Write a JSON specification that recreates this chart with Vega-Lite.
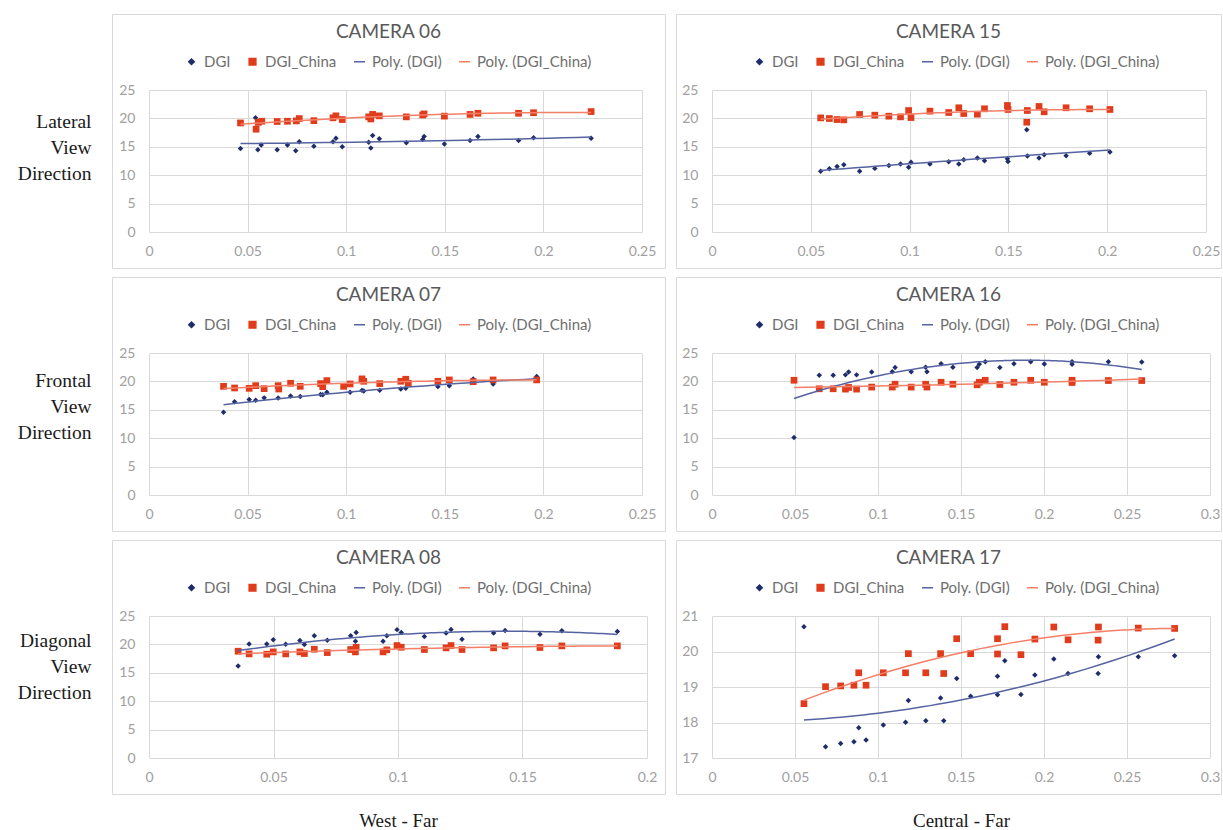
{
  "$schema": "https://vega.github.io/schema/vega-lite/v6.json",
  "background": "white",
  "padding": {"left": 16, "top": 13, "right": 0, "bottom": 0},
  "datasets": {
    "pts": [
      {"cam":"06","s":"DGI","x":0.0464,"y":14.7},{"cam":"06","s":"DGI","x":0.054,"y":20.1},{"cam":"06","s":"DGI","x":0.0552,"y":14.5},{"cam":"06","s":"DGI","x":0.0569,"y":15.3},{"cam":"06","s":"DGI","x":0.065,"y":14.5},{"cam":"06","s":"DGI","x":0.0702,"y":15.3},{"cam":"06","s":"DGI","x":0.0744,"y":14.3},{"cam":"06","s":"DGI","x":0.0762,"y":15.9},{"cam":"06","s":"DGI","x":0.0836,"y":15.1},{"cam":"06","s":"DGI","x":0.0933,"y":15.9},{"cam":"06","s":"DGI","x":0.0948,"y":16.5},{"cam":"06","s":"DGI","x":0.098,"y":15.0},{"cam":"06","s":"DGI","x":0.1114,"y":15.8},{"cam":"06","s":"DGI","x":0.1125,"y":14.8},{"cam":"06","s":"DGI","x":0.1134,"y":17.0},{"cam":"06","s":"DGI","x":0.1168,"y":16.4},{"cam":"06","s":"DGI","x":0.1305,"y":15.7},{"cam":"06","s":"DGI","x":0.1388,"y":16.3},{"cam":"06","s":"DGI","x":0.1395,"y":16.8},{"cam":"06","s":"DGI","x":0.1498,"y":15.5},{"cam":"06","s":"DGI","x":0.1628,"y":16.1},{"cam":"06","s":"DGI","x":0.1668,"y":16.8},{"cam":"06","s":"DGI","x":0.1874,"y":16.1},{"cam":"06","s":"DGI","x":0.195,"y":16.6},{"cam":"06","s":"DGI","x":0.2242,"y":16.5},
      {"cam":"06","s":"DGI_China","x":0.0464,"y":19.2},{"cam":"06","s":"DGI_China","x":0.0543,"y":18.1},{"cam":"06","s":"DGI_China","x":0.0554,"y":19.3},{"cam":"06","s":"DGI_China","x":0.0572,"y":19.5},{"cam":"06","s":"DGI_China","x":0.065,"y":19.45},{"cam":"06","s":"DGI_China","x":0.0702,"y":19.5},{"cam":"06","s":"DGI_China","x":0.0747,"y":19.56},{"cam":"06","s":"DGI_China","x":0.0762,"y":19.97},{"cam":"06","s":"DGI_China","x":0.0836,"y":19.6},{"cam":"06","s":"DGI_China","x":0.0933,"y":20.1},{"cam":"06","s":"DGI_China","x":0.0948,"y":20.45},{"cam":"06","s":"DGI_China","x":0.098,"y":19.8},{"cam":"06","s":"DGI_China","x":0.1114,"y":20.27},{"cam":"06","s":"DGI_China","x":0.1125,"y":19.9},{"cam":"06","s":"DGI_China","x":0.1134,"y":20.7},{"cam":"06","s":"DGI_China","x":0.1168,"y":20.45},{"cam":"06","s":"DGI_China","x":0.1305,"y":20.27},{"cam":"06","s":"DGI_China","x":0.1388,"y":20.6},{"cam":"06","s":"DGI_China","x":0.1395,"y":20.8},{"cam":"06","s":"DGI_China","x":0.1498,"y":20.4},{"cam":"06","s":"DGI_China","x":0.1628,"y":20.7},{"cam":"06","s":"DGI_China","x":0.1668,"y":20.9},{"cam":"06","s":"DGI_China","x":0.1874,"y":20.9},{"cam":"06","s":"DGI_China","x":0.195,"y":21.0},{"cam":"06","s":"DGI_China","x":0.2242,"y":21.2},
      {"cam":"15","s":"DGI","x":0.055,"y":10.7},{"cam":"15","s":"DGI","x":0.0594,"y":11.15},{"cam":"15","s":"DGI","x":0.0633,"y":11.55},{"cam":"15","s":"DGI","x":0.0667,"y":11.85},{"cam":"15","s":"DGI","x":0.0747,"y":10.7},{"cam":"15","s":"DGI","x":0.0824,"y":11.2},{"cam":"15","s":"DGI","x":0.0895,"y":11.72},{"cam":"15","s":"DGI","x":0.0954,"y":11.96},{"cam":"15","s":"DGI","x":0.0995,"y":11.4},{"cam":"15","s":"DGI","x":0.1007,"y":12.3},{"cam":"15","s":"DGI","x":0.1103,"y":11.96},{"cam":"15","s":"DGI","x":0.1198,"y":12.37},{"cam":"15","s":"DGI","x":0.1249,"y":11.96},{"cam":"15","s":"DGI","x":0.1274,"y":12.73},{"cam":"15","s":"DGI","x":0.1343,"y":13.02},{"cam":"15","s":"DGI","x":0.1379,"y":12.55},{"cam":"15","s":"DGI","x":0.1495,"y":12.9},{"cam":"15","s":"DGI","x":0.1498,"y":12.43},{"cam":"15","s":"DGI","x":0.1593,"y":18.0},{"cam":"15","s":"DGI","x":0.1596,"y":13.38},{"cam":"15","s":"DGI","x":0.1655,"y":13.02},{"cam":"15","s":"DGI","x":0.1681,"y":13.61},{"cam":"15","s":"DGI","x":0.1792,"y":13.43},{"cam":"15","s":"DGI","x":0.1911,"y":13.85},{"cam":"15","s":"DGI","x":0.2014,"y":14.08},
      {"cam":"15","s":"DGI_China","x":0.055,"y":20.09},{"cam":"15","s":"DGI_China","x":0.0594,"y":19.98},{"cam":"15","s":"DGI_China","x":0.0633,"y":19.8},{"cam":"15","s":"DGI_China","x":0.0667,"y":19.74},{"cam":"15","s":"DGI_China","x":0.0747,"y":20.69},{"cam":"15","s":"DGI_China","x":0.0824,"y":20.57},{"cam":"15","s":"DGI_China","x":0.0895,"y":20.39},{"cam":"15","s":"DGI_China","x":0.0954,"y":20.27},{"cam":"15","s":"DGI_China","x":0.0995,"y":21.39},{"cam":"15","s":"DGI_China","x":0.1007,"y":20.15},{"cam":"15","s":"DGI_China","x":0.1103,"y":21.28},{"cam":"15","s":"DGI_China","x":0.1198,"y":21.04},{"cam":"15","s":"DGI_China","x":0.1249,"y":21.87},{"cam":"15","s":"DGI_China","x":0.1274,"y":20.86},{"cam":"15","s":"DGI_China","x":0.1343,"y":20.74},{"cam":"15","s":"DGI_China","x":0.1379,"y":21.69},{"cam":"15","s":"DGI_China","x":0.1495,"y":22.28},{"cam":"15","s":"DGI_China","x":0.1498,"y":21.57},{"cam":"15","s":"DGI_China","x":0.1593,"y":19.33},{"cam":"15","s":"DGI_China","x":0.1596,"y":21.39},{"cam":"15","s":"DGI_China","x":0.1655,"y":22.1},{"cam":"15","s":"DGI_China","x":0.1681,"y":21.16},{"cam":"15","s":"DGI_China","x":0.1792,"y":21.87},{"cam":"15","s":"DGI_China","x":0.1911,"y":21.69},{"cam":"15","s":"DGI_China","x":0.2014,"y":21.57},
      {"cam":"07","s":"DGI","x":0.0378,"y":14.57},{"cam":"07","s":"DGI","x":0.0434,"y":16.41},{"cam":"07","s":"DGI","x":0.0508,"y":16.82},{"cam":"07","s":"DGI","x":0.0541,"y":16.7},{"cam":"07","s":"DGI","x":0.0584,"y":17.1},{"cam":"07","s":"DGI","x":0.0655,"y":17.06},{"cam":"07","s":"DGI","x":0.0718,"y":17.42},{"cam":"07","s":"DGI","x":0.0767,"y":17.36},{"cam":"07","s":"DGI","x":0.087,"y":17.71},{"cam":"07","s":"DGI","x":0.0881,"y":17.65},{"cam":"07","s":"DGI","x":0.0902,"y":18.07},{"cam":"07","s":"DGI","x":0.102,"y":18.07},{"cam":"07","s":"DGI","x":0.108,"y":18.42},{"cam":"07","s":"DGI","x":0.1089,"y":18.3},{"cam":"07","s":"DGI","x":0.117,"y":18.42},{"cam":"07","s":"DGI","x":0.1277,"y":18.66},{"cam":"07","s":"DGI","x":0.1302,"y":18.78},{"cam":"07","s":"DGI","x":0.1465,"y":19.08},{"cam":"07","s":"DGI","x":0.1523,"y":19.25},{"cam":"07","s":"DGI","x":0.1644,"y":20.44},{"cam":"07","s":"DGI","x":0.1745,"y":19.55},{"cam":"07","s":"DGI","x":0.1966,"y":20.85},
      {"cam":"07","s":"DGI_China","x":0.0378,"y":19.13},{"cam":"07","s":"DGI_China","x":0.0434,"y":18.84},{"cam":"07","s":"DGI_China","x":0.0508,"y":18.78},{"cam":"07","s":"DGI_China","x":0.0541,"y":19.25},{"cam":"07","s":"DGI_China","x":0.0584,"y":18.72},{"cam":"07","s":"DGI_China","x":0.0655,"y":19.25},{"cam":"07","s":"DGI_China","x":0.0658,"y":18.66},{"cam":"07","s":"DGI_China","x":0.0718,"y":19.67},{"cam":"07","s":"DGI_China","x":0.0767,"y":19.13},{"cam":"07","s":"DGI_China","x":0.087,"y":19.61},{"cam":"07","s":"DGI_China","x":0.0881,"y":19.08},{"cam":"07","s":"DGI_China","x":0.0902,"y":20.14},{"cam":"07","s":"DGI_China","x":0.0987,"y":19.13},{"cam":"07","s":"DGI_China","x":0.102,"y":19.55},{"cam":"07","s":"DGI_China","x":0.108,"y":20.44},{"cam":"07","s":"DGI_China","x":0.1089,"y":20.02},{"cam":"07","s":"DGI_China","x":0.117,"y":19.61},{"cam":"07","s":"DGI_China","x":0.1277,"y":20.02},{"cam":"07","s":"DGI_China","x":0.1302,"y":20.38},{"cam":"07","s":"DGI_China","x":0.1315,"y":19.67},{"cam":"07","s":"DGI_China","x":0.1465,"y":20.02},{"cam":"07","s":"DGI_China","x":0.1523,"y":20.26},{"cam":"07","s":"DGI_China","x":0.1644,"y":19.96},{"cam":"07","s":"DGI_China","x":0.1745,"y":20.26},{"cam":"07","s":"DGI_China","x":0.1966,"y":20.26},
      {"cam":"16","s":"DGI","x":0.0494,"y":10.12},{"cam":"16","s":"DGI","x":0.0646,"y":21.1},{"cam":"16","s":"DGI","x":0.073,"y":21.1},{"cam":"16","s":"DGI","x":0.0804,"y":21.15},{"cam":"16","s":"DGI","x":0.0823,"y":21.65},{"cam":"16","s":"DGI","x":0.0871,"y":21.15},{"cam":"16","s":"DGI","x":0.0962,"y":21.65},{"cam":"16","s":"DGI","x":0.1086,"y":21.7},{"cam":"16","s":"DGI","x":0.1103,"y":22.45},{"cam":"16","s":"DGI","x":0.12,"y":21.7},{"cam":"16","s":"DGI","x":0.1287,"y":22.5},{"cam":"16","s":"DGI","x":0.1295,"y":21.7},{"cam":"16","s":"DGI","x":0.138,"y":23.1},{"cam":"16","s":"DGI","x":0.1451,"y":22.5},{"cam":"16","s":"DGI","x":0.1597,"y":22.45},{"cam":"16","s":"DGI","x":0.161,"y":23.0},{"cam":"16","s":"DGI","x":0.1646,"y":23.45},{"cam":"16","s":"DGI","x":0.1734,"y":22.45},{"cam":"16","s":"DGI","x":0.1819,"y":23.1},{"cam":"16","s":"DGI","x":0.192,"y":23.45},{"cam":"16","s":"DGI","x":0.2002,"y":23.05},{"cam":"16","s":"DGI","x":0.2169,"y":23.45},{"cam":"16","s":"DGI","x":0.2169,"y":23.0},{"cam":"16","s":"DGI","x":0.2388,"y":23.45},{"cam":"16","s":"DGI","x":0.2589,"y":23.4},
      {"cam":"16","s":"DGI_China","x":0.0494,"y":20.2},{"cam":"16","s":"DGI_China","x":0.0646,"y":18.7},{"cam":"16","s":"DGI_China","x":0.073,"y":18.7},{"cam":"16","s":"DGI_China","x":0.0804,"y":18.64},{"cam":"16","s":"DGI_China","x":0.0823,"y":18.94},{"cam":"16","s":"DGI_China","x":0.0871,"y":18.64},{"cam":"16","s":"DGI_China","x":0.0962,"y":19.0},{"cam":"16","s":"DGI_China","x":0.1086,"y":19.0},{"cam":"16","s":"DGI_China","x":0.1103,"y":19.5},{"cam":"16","s":"DGI_China","x":0.12,"y":19.0},{"cam":"16","s":"DGI_China","x":0.1287,"y":19.5},{"cam":"16","s":"DGI_China","x":0.1295,"y":19.0},{"cam":"16","s":"DGI_China","x":0.138,"y":19.85},{"cam":"16","s":"DGI_China","x":0.1451,"y":19.5},{"cam":"16","s":"DGI_China","x":0.1597,"y":19.4},{"cam":"16","s":"DGI_China","x":0.161,"y":19.85},{"cam":"16","s":"DGI_China","x":0.1646,"y":20.2},{"cam":"16","s":"DGI_China","x":0.1734,"y":19.45},{"cam":"16","s":"DGI_China","x":0.1819,"y":19.85},{"cam":"16","s":"DGI_China","x":0.192,"y":20.2},{"cam":"16","s":"DGI_China","x":0.2002,"y":19.85},{"cam":"16","s":"DGI_China","x":0.2169,"y":20.2},{"cam":"16","s":"DGI_China","x":0.2169,"y":19.8},{"cam":"16","s":"DGI_China","x":0.2388,"y":20.15},{"cam":"16","s":"DGI_China","x":0.2589,"y":20.15},
      {"cam":"08","s":"DGI","x":0.0358,"y":16.19},{"cam":"08","s":"DGI","x":0.0402,"y":20.09},{"cam":"08","s":"DGI","x":0.0473,"y":20.09},{"cam":"08","s":"DGI","x":0.0499,"y":20.8},{"cam":"08","s":"DGI","x":0.0549,"y":20.03},{"cam":"08","s":"DGI","x":0.0606,"y":20.68},{"cam":"08","s":"DGI","x":0.0624,"y":19.98},{"cam":"08","s":"DGI","x":0.0664,"y":21.51},{"cam":"08","s":"DGI","x":0.0716,"y":20.74},{"cam":"08","s":"DGI","x":0.081,"y":21.51},{"cam":"08","s":"DGI","x":0.0829,"y":20.57},{"cam":"08","s":"DGI","x":0.0832,"y":22.1},{"cam":"08","s":"DGI","x":0.094,"y":20.57},{"cam":"08","s":"DGI","x":0.0955,"y":21.51},{"cam":"08","s":"DGI","x":0.0996,"y":22.6},{"cam":"08","s":"DGI","x":0.1013,"y":22.1},{"cam":"08","s":"DGI","x":0.1106,"y":21.4},{"cam":"08","s":"DGI","x":0.1193,"y":22.0},{"cam":"08","s":"DGI","x":0.1213,"y":22.64},{"cam":"08","s":"DGI","x":0.1257,"y":20.92},{"cam":"08","s":"DGI","x":0.1384,"y":22.0},{"cam":"08","s":"DGI","x":0.143,"y":22.46},{"cam":"08","s":"DGI","x":0.157,"y":21.8},{"cam":"08","s":"DGI","x":0.1658,"y":22.4},{"cam":"08","s":"DGI","x":0.1881,"y":22.28},
      {"cam":"08","s":"DGI_China","x":0.0358,"y":18.8},{"cam":"08","s":"DGI_China","x":0.0402,"y":18.33},{"cam":"08","s":"DGI_China","x":0.0473,"y":18.27},{"cam":"08","s":"DGI_China","x":0.0499,"y":18.68},{"cam":"08","s":"DGI_China","x":0.0549,"y":18.33},{"cam":"08","s":"DGI_China","x":0.0606,"y":18.68},{"cam":"08","s":"DGI_China","x":0.0624,"y":18.39},{"cam":"08","s":"DGI_China","x":0.0664,"y":19.15},{"cam":"08","s":"DGI_China","x":0.0716,"y":18.56},{"cam":"08","s":"DGI_China","x":0.081,"y":19.1},{"cam":"08","s":"DGI_China","x":0.0829,"y":18.68},{"cam":"08","s":"DGI_China","x":0.0832,"y":19.5},{"cam":"08","s":"DGI_China","x":0.094,"y":18.68},{"cam":"08","s":"DGI_China","x":0.0955,"y":19.04},{"cam":"08","s":"DGI_China","x":0.0996,"y":19.8},{"cam":"08","s":"DGI_China","x":0.1013,"y":19.5},{"cam":"08","s":"DGI_China","x":0.1106,"y":19.1},{"cam":"08","s":"DGI_China","x":0.1193,"y":19.39},{"cam":"08","s":"DGI_China","x":0.1213,"y":19.8},{"cam":"08","s":"DGI_China","x":0.1257,"y":19.1},{"cam":"08","s":"DGI_China","x":0.1384,"y":19.39},{"cam":"08","s":"DGI_China","x":0.143,"y":19.74},{"cam":"08","s":"DGI_China","x":0.157,"y":19.45},{"cam":"08","s":"DGI_China","x":0.1658,"y":19.74},{"cam":"08","s":"DGI_China","x":0.1881,"y":19.74},
      {"cam":"17","s":"DGI","x":0.0554,"y":20.7},{"cam":"17","s":"DGI","x":0.0684,"y":17.32},{"cam":"17","s":"DGI","x":0.0775,"y":17.41},{"cam":"17","s":"DGI","x":0.0855,"y":17.46},{"cam":"17","s":"DGI","x":0.0884,"y":17.85},{"cam":"17","s":"DGI","x":0.0928,"y":17.51},{"cam":"17","s":"DGI","x":0.1032,"y":17.93},{"cam":"17","s":"DGI","x":0.1166,"y":18.01},{"cam":"17","s":"DGI","x":0.1183,"y":18.62},{"cam":"17","s":"DGI","x":0.1288,"y":18.05},{"cam":"17","s":"DGI","x":0.1377,"y":18.69},{"cam":"17","s":"DGI","x":0.1396,"y":18.05},{"cam":"17","s":"DGI","x":0.1474,"y":19.24},{"cam":"17","s":"DGI","x":0.1558,"y":18.74},{"cam":"17","s":"DGI","x":0.172,"y":19.3},{"cam":"17","s":"DGI","x":0.172,"y":18.78},{"cam":"17","s":"DGI","x":0.1764,"y":19.74},{"cam":"17","s":"DGI","x":0.1861,"y":18.79},{"cam":"17","s":"DGI","x":0.1945,"y":19.34},{"cam":"17","s":"DGI","x":0.2059,"y":19.79},{"cam":"17","s":"DGI","x":0.2145,"y":19.38},{"cam":"17","s":"DGI","x":0.2328,"y":19.85},{"cam":"17","s":"DGI","x":0.2326,"y":19.38},{"cam":"17","s":"DGI","x":0.2568,"y":19.85},{"cam":"17","s":"DGI","x":0.2787,"y":19.88},
      {"cam":"17","s":"DGI_China","x":0.0554,"y":18.53},{"cam":"17","s":"DGI_China","x":0.0684,"y":19.01},{"cam":"17","s":"DGI_China","x":0.0775,"y":19.03},{"cam":"17","s":"DGI_China","x":0.0855,"y":19.05},{"cam":"17","s":"DGI_China","x":0.0884,"y":19.4},{"cam":"17","s":"DGI_China","x":0.0928,"y":19.05},{"cam":"17","s":"DGI_China","x":0.1032,"y":19.4},{"cam":"17","s":"DGI_China","x":0.1166,"y":19.4},{"cam":"17","s":"DGI_China","x":0.1183,"y":19.94},{"cam":"17","s":"DGI_China","x":0.1288,"y":19.4},{"cam":"17","s":"DGI_China","x":0.1377,"y":19.94},{"cam":"17","s":"DGI_China","x":0.1396,"y":19.38},{"cam":"17","s":"DGI_China","x":0.1474,"y":20.36},{"cam":"17","s":"DGI_China","x":0.1558,"y":19.94},{"cam":"17","s":"DGI_China","x":0.172,"y":20.36},{"cam":"17","s":"DGI_China","x":0.172,"y":19.93},{"cam":"17","s":"DGI_China","x":0.1764,"y":20.7},{"cam":"17","s":"DGI_China","x":0.1861,"y":19.91},{"cam":"17","s":"DGI_China","x":0.1945,"y":20.35},{"cam":"17","s":"DGI_China","x":0.2059,"y":20.69},{"cam":"17","s":"DGI_China","x":0.2145,"y":20.33},{"cam":"17","s":"DGI_China","x":0.2328,"y":20.69},{"cam":"17","s":"DGI_China","x":0.2326,"y":20.32},{"cam":"17","s":"DGI_China","x":0.2568,"y":20.66},{"cam":"17","s":"DGI_China","x":0.2787,"y":20.65}
    ]
  },
  "data": {"name": "pts"},
  "spacing": 7,
  "resolve": {"scale": {"color": "independent"}, "legend": {"color": "independent"}},
  "vconcat": [
    {"spacing": 11, "bounds": "flush", "resolve": {"scale": {"color": "independent"}, "legend": {"color": "independent"}}, "hconcat": [
      {"width": 553, "height": 254, "title": {"text": "CAMERA 06"},
       "transform": [{"filter": "datum.cam === '06'"}],
       "resolve": {"axis": {"x": "independent", "y": "independent"}},
       "layer": [
        {"transform": [{"filter": "datum.s === 'DGI'"}],
         "mark": {"type": "point", "shape": "diamond", "filled": true, "size": 30, "opacity": 1},
         "encoding": {
          "x": {"field": "x", "type": "quantitative", "scale": {"domain": [0, 0.25], "range": [37, 530], "nice": false, "zero": false},
                "axis": {"orient": "bottom", "offset": -36, "values": [0, 0.05, 0.1, 0.15, 0.2, 0.25], "format": "~g", "grid": false, "title": null, "labelPadding": 12}},
          "y": {"field": "y", "type": "quantitative", "scale": {"domain": [0, 25], "range": [218, 76], "nice": false, "zero": false},
                "axis": {"orient": "left", "offset": -37, "values": [0, 5, 10, 15, 20, 25], "format": "~g", "grid": true, "labelPadding": 14,
                         "title": ["Lateral", "View", "Direction"], "titleAngle": 0, "titleAlign": "right", "titleBaseline": "middle", "titleX": -58, "titleY": 107,
                         "titleFont": "Liberation Serif", "titleFontSize": 19.5, "titleFontWeight": "normal", "titleColor": "#1a1a1a", "titleLineHeight": 26}},
          "color": {"field": "s", "type": "nominal",
                    "scale": {"domain": ["DGI", "DGI_China", "Poly. (DGI)", "Poly. (DGI_China)"], "range": ["#1f2c6b", "#e03c1c", "#5563a0", "#f47f66"]},
                    "legend": {"orient": "none", "legendX": 72, "legendY": 40, "direction": "horizontal", "title": null,
                               "encoding": {"symbols": {
                                 "shape": {"value": {"expr": "datum.value === 'DGI' ? 'diamond' : datum.value === 'DGI_China' ? 'square' : 'stroke'"}},
                                 "fill": {"value": {"expr": "datum.value === 'DGI' ? '#1f2c6b' : datum.value === 'DGI_China' ? '#e03c1c' : 'transparent'"}},
                                 "stroke": {"value": {"expr": "datum.value === 'Poly. (DGI)' ? '#5563a0' : datum.value === 'Poly. (DGI_China)' ? '#f47f66' : 'transparent'"}},
                                 "size": {"value": {"expr": "datum.value === 'DGI' ? 30 : datum.value === 'DGI_China' ? 45 : 121"}},
                                 "strokeWidth": {"value": 1.5}, "opacity": {"value": 1}}}}}
         }},
        {"transform": [{"filter": "datum.s === 'DGI_China'"}],
         "mark": {"type": "point", "shape": "square", "filled": true, "size": 45, "opacity": 1},
         "encoding": {
          "x": {"field": "x", "type": "quantitative", "axis": {"orient": "top", "values": [0, 0.05, 0.1, 0.15, 0.2, 0.25], "grid": true, "labels": false, "title": null}},
          "y": {"field": "y", "type": "quantitative", "axis": null},
          "color": {"field": "s", "type": "nominal", "legend": null}
         }},
        {"transform": [{"filter": "datum.s === 'DGI'"}, {"regression": "y", "on": "x", "method": "poly", "order": 2}],
         "mark": {"type": "line", "strokeWidth": 1.5},
         "encoding": {"x": {"field": "x", "type": "quantitative", "axis": null}, "y": {"field": "y", "type": "quantitative", "axis": null}, "color": {"datum": "Poly. (DGI)", "legend": null}}},
        {"transform": [{"filter": "datum.s === 'DGI_China'"}, {"regression": "y", "on": "x", "method": "poly", "order": 2}],
         "mark": {"type": "line", "strokeWidth": 1.5},
         "encoding": {"x": {"field": "x", "type": "quantitative", "axis": null}, "y": {"field": "y", "type": "quantitative", "axis": null}, "color": {"datum": "Poly. (DGI_China)", "legend": null}}}
       ]},
      {"width": 545, "height": 254, "title": {"text": "CAMERA 15"},
       "transform": [{"filter": "datum.cam === '15'"}],
       "resolve": {"axis": {"x": "independent", "y": "independent"}},
       "layer": [
        {"transform": [{"filter": "datum.s === 'DGI'"}],
         "mark": {"type": "point", "shape": "diamond", "filled": true, "size": 30, "opacity": 1},
         "encoding": {
          "x": {"field": "x", "type": "quantitative", "scale": {"domain": [0, 0.25], "range": [36, 530], "nice": false, "zero": false},
                "axis": {"orient": "bottom", "offset": -36, "values": [0, 0.05, 0.1, 0.15, 0.2, 0.25], "format": "~g", "grid": false, "title": null, "labelPadding": 12}},
          "y": {"field": "y", "type": "quantitative", "scale": {"domain": [0, 25], "range": [218, 76], "nice": false, "zero": false},
                "axis": {"orient": "left", "offset": -36, "values": [0, 5, 10, 15, 20, 25], "format": "~g", "grid": true, "labelPadding": 14, "title": null}},
          "color": {"field": "s", "type": "nominal",
                    "scale": {"domain": ["DGI", "DGI_China", "Poly. (DGI)", "Poly. (DGI_China)"], "range": ["#1f2c6b", "#e03c1c", "#5563a0", "#f47f66"]},
                    "legend": {"orient": "none", "legendX": 76, "legendY": 40, "direction": "horizontal", "title": null,
                               "encoding": {"symbols": {
                                 "shape": {"value": {"expr": "datum.value === 'DGI' ? 'diamond' : datum.value === 'DGI_China' ? 'square' : 'stroke'"}},
                                 "fill": {"value": {"expr": "datum.value === 'DGI' ? '#1f2c6b' : datum.value === 'DGI_China' ? '#e03c1c' : 'transparent'"}},
                                 "stroke": {"value": {"expr": "datum.value === 'Poly. (DGI)' ? '#5563a0' : datum.value === 'Poly. (DGI_China)' ? '#f47f66' : 'transparent'"}},
                                 "size": {"value": {"expr": "datum.value === 'DGI' ? 30 : datum.value === 'DGI_China' ? 45 : 121"}},
                                 "strokeWidth": {"value": 1.5}, "opacity": {"value": 1}}}}}
         }},
        {"transform": [{"filter": "datum.s === 'DGI_China'"}],
         "mark": {"type": "point", "shape": "square", "filled": true, "size": 45, "opacity": 1},
         "encoding": {
          "x": {"field": "x", "type": "quantitative", "axis": {"orient": "top", "values": [0, 0.05, 0.1, 0.15, 0.2, 0.25], "grid": true, "labels": false, "title": null}},
          "y": {"field": "y", "type": "quantitative", "axis": null},
          "color": {"field": "s", "type": "nominal", "legend": null}
         }},
        {"transform": [{"filter": "datum.s === 'DGI'"}, {"regression": "y", "on": "x", "method": "poly", "order": 2}],
         "mark": {"type": "line", "strokeWidth": 1.5},
         "encoding": {"x": {"field": "x", "type": "quantitative", "axis": null}, "y": {"field": "y", "type": "quantitative", "axis": null}, "color": {"datum": "Poly. (DGI)", "legend": null}}},
        {"transform": [{"filter": "datum.s === 'DGI_China'"}, {"regression": "y", "on": "x", "method": "poly", "order": 2}],
         "mark": {"type": "line", "strokeWidth": 1.5},
         "encoding": {"x": {"field": "x", "type": "quantitative", "axis": null}, "y": {"field": "y", "type": "quantitative", "axis": null}, "color": {"datum": "Poly. (DGI_China)", "legend": null}}}
       ]}
    ]},
    {"spacing": 11, "bounds": "flush", "resolve": {"scale": {"color": "independent"}, "legend": {"color": "independent"}}, "hconcat": [
      {"width": 553, "height": 254, "title": {"text": "CAMERA 07"},
       "transform": [{"filter": "datum.cam === '07'"}],
       "resolve": {"axis": {"x": "independent", "y": "independent"}},
       "layer": [
        {"transform": [{"filter": "datum.s === 'DGI'"}],
         "mark": {"type": "point", "shape": "diamond", "filled": true, "size": 30, "opacity": 1},
         "encoding": {
          "x": {"field": "x", "type": "quantitative", "scale": {"domain": [0, 0.25], "range": [37, 530], "nice": false, "zero": false},
                "axis": {"orient": "bottom", "offset": -36, "values": [0, 0.05, 0.1, 0.15, 0.2, 0.25], "format": "~g", "grid": false, "title": null, "labelPadding": 12}},
          "y": {"field": "y", "type": "quantitative", "scale": {"domain": [0, 25], "range": [218, 76], "nice": false, "zero": false},
                "axis": {"orient": "left", "offset": -37, "values": [0, 5, 10, 15, 20, 25], "format": "~g", "grid": true, "labelPadding": 14,
                         "title": ["Frontal", "View", "Direction"], "titleAngle": 0, "titleAlign": "right", "titleBaseline": "middle", "titleX": -58, "titleY": 103,
                         "titleFont": "Liberation Serif", "titleFontSize": 19.5, "titleFontWeight": "normal", "titleColor": "#1a1a1a", "titleLineHeight": 26}},
          "color": {"field": "s", "type": "nominal",
                    "scale": {"domain": ["DGI", "DGI_China", "Poly. (DGI)", "Poly. (DGI_China)"], "range": ["#1f2c6b", "#e03c1c", "#5563a0", "#f47f66"]},
                    "legend": {"orient": "none", "legendX": 72, "legendY": 40, "direction": "horizontal", "title": null,
                               "encoding": {"symbols": {
                                 "shape": {"value": {"expr": "datum.value === 'DGI' ? 'diamond' : datum.value === 'DGI_China' ? 'square' : 'stroke'"}},
                                 "fill": {"value": {"expr": "datum.value === 'DGI' ? '#1f2c6b' : datum.value === 'DGI_China' ? '#e03c1c' : 'transparent'"}},
                                 "stroke": {"value": {"expr": "datum.value === 'Poly. (DGI)' ? '#5563a0' : datum.value === 'Poly. (DGI_China)' ? '#f47f66' : 'transparent'"}},
                                 "size": {"value": {"expr": "datum.value === 'DGI' ? 30 : datum.value === 'DGI_China' ? 45 : 121"}},
                                 "strokeWidth": {"value": 1.5}, "opacity": {"value": 1}}}}}
         }},
        {"transform": [{"filter": "datum.s === 'DGI_China'"}],
         "mark": {"type": "point", "shape": "square", "filled": true, "size": 45, "opacity": 1},
         "encoding": {
          "x": {"field": "x", "type": "quantitative", "axis": {"orient": "top", "values": [0, 0.05, 0.1, 0.15, 0.2, 0.25], "grid": true, "labels": false, "title": null}},
          "y": {"field": "y", "type": "quantitative", "axis": null},
          "color": {"field": "s", "type": "nominal", "legend": null}
         }},
        {"transform": [{"filter": "datum.s === 'DGI'"}, {"regression": "y", "on": "x", "method": "poly", "order": 2}],
         "mark": {"type": "line", "strokeWidth": 1.5},
         "encoding": {"x": {"field": "x", "type": "quantitative", "axis": null}, "y": {"field": "y", "type": "quantitative", "axis": null}, "color": {"datum": "Poly. (DGI)", "legend": null}}},
        {"transform": [{"filter": "datum.s === 'DGI_China'"}, {"regression": "y", "on": "x", "method": "poly", "order": 2}],
         "mark": {"type": "line", "strokeWidth": 1.5},
         "encoding": {"x": {"field": "x", "type": "quantitative", "axis": null}, "y": {"field": "y", "type": "quantitative", "axis": null}, "color": {"datum": "Poly. (DGI_China)", "legend": null}}}
       ]},
      {"width": 545, "height": 254, "title": {"text": "CAMERA 16"},
       "transform": [{"filter": "datum.cam === '16'"}],
       "resolve": {"axis": {"x": "independent", "y": "independent"}},
       "layer": [
        {"transform": [{"filter": "datum.s === 'DGI'"}],
         "mark": {"type": "point", "shape": "diamond", "filled": true, "size": 30, "opacity": 1},
         "encoding": {
          "x": {"field": "x", "type": "quantitative", "scale": {"domain": [0, 0.3], "range": [36, 534], "nice": false, "zero": false},
                "axis": {"orient": "bottom", "offset": -36, "values": [0, 0.05, 0.1, 0.15, 0.2, 0.25, 0.3], "format": "~g", "grid": false, "title": null, "labelPadding": 12}},
          "y": {"field": "y", "type": "quantitative", "scale": {"domain": [0, 25], "range": [218, 76], "nice": false, "zero": false},
                "axis": {"orient": "left", "offset": -36, "values": [0, 5, 10, 15, 20, 25], "format": "~g", "grid": true, "labelPadding": 14, "title": null}},
          "color": {"field": "s", "type": "nominal",
                    "scale": {"domain": ["DGI", "DGI_China", "Poly. (DGI)", "Poly. (DGI_China)"], "range": ["#1f2c6b", "#e03c1c", "#5563a0", "#f47f66"]},
                    "legend": {"orient": "none", "legendX": 76, "legendY": 40, "direction": "horizontal", "title": null,
                               "encoding": {"symbols": {
                                 "shape": {"value": {"expr": "datum.value === 'DGI' ? 'diamond' : datum.value === 'DGI_China' ? 'square' : 'stroke'"}},
                                 "fill": {"value": {"expr": "datum.value === 'DGI' ? '#1f2c6b' : datum.value === 'DGI_China' ? '#e03c1c' : 'transparent'"}},
                                 "stroke": {"value": {"expr": "datum.value === 'Poly. (DGI)' ? '#5563a0' : datum.value === 'Poly. (DGI_China)' ? '#f47f66' : 'transparent'"}},
                                 "size": {"value": {"expr": "datum.value === 'DGI' ? 30 : datum.value === 'DGI_China' ? 45 : 121"}},
                                 "strokeWidth": {"value": 1.5}, "opacity": {"value": 1}}}}}
         }},
        {"transform": [{"filter": "datum.s === 'DGI_China'"}],
         "mark": {"type": "point", "shape": "square", "filled": true, "size": 45, "opacity": 1},
         "encoding": {
          "x": {"field": "x", "type": "quantitative", "axis": {"orient": "top", "values": [0, 0.05, 0.1, 0.15, 0.2, 0.25, 0.3], "grid": true, "labels": false, "title": null}},
          "y": {"field": "y", "type": "quantitative", "axis": null},
          "color": {"field": "s", "type": "nominal", "legend": null}
         }},
        {"transform": [{"filter": "datum.s === 'DGI'"}, {"regression": "y", "on": "x", "method": "poly", "order": 2}],
         "mark": {"type": "line", "strokeWidth": 1.5},
         "encoding": {"x": {"field": "x", "type": "quantitative", "axis": null}, "y": {"field": "y", "type": "quantitative", "axis": null}, "color": {"datum": "Poly. (DGI)", "legend": null}}},
        {"transform": [{"filter": "datum.s === 'DGI_China'"}, {"regression": "y", "on": "x", "method": "poly", "order": 2}],
         "mark": {"type": "line", "strokeWidth": 1.5},
         "encoding": {"x": {"field": "x", "type": "quantitative", "axis": null}, "y": {"field": "y", "type": "quantitative", "axis": null}, "color": {"datum": "Poly. (DGI_China)", "legend": null}}}
       ]}
    ]},
    {"spacing": 11, "bounds": "flush", "resolve": {"scale": {"color": "independent"}, "legend": {"color": "independent"}}, "hconcat": [
      {"width": 553, "height": 254, "title": {"text": "CAMERA 08"},
       "transform": [{"filter": "datum.cam === '08'"}],
       "resolve": {"axis": {"x": "independent", "y": "independent"}},
       "layer": [
        {"transform": [{"filter": "datum.s === 'DGI'"}],
         "mark": {"type": "point", "shape": "diamond", "filled": true, "size": 30, "opacity": 1},
         "encoding": {
          "x": {"field": "x", "type": "quantitative", "scale": {"domain": [0, 0.2], "range": [37, 535], "nice": false, "zero": false},
                "axis": {"orient": "bottom", "offset": -36, "values": [0, 0.05, 0.1, 0.15, 0.2], "format": "~g", "grid": false, "labelPadding": 12,
                         "title": "West - Far", "titleFont": "Liberation Serif", "titleFontSize": 19, "titleFontWeight": "normal", "titleColor": "#1a1a1a", "titlePadding": 27}},
          "y": {"field": "y", "type": "quantitative", "scale": {"domain": [0, 25], "range": [218, 76], "nice": false, "zero": false},
                "axis": {"orient": "left", "offset": -37, "values": [0, 5, 10, 15, 20, 25], "format": "~g", "grid": true, "labelPadding": 14,
                         "title": ["Diagonal", "View", "Direction"], "titleAngle": 0, "titleAlign": "right", "titleBaseline": "middle", "titleX": -58, "titleY": 100,
                         "titleFont": "Liberation Serif", "titleFontSize": 19.5, "titleFontWeight": "normal", "titleColor": "#1a1a1a", "titleLineHeight": 26}},
          "color": {"field": "s", "type": "nominal",
                    "scale": {"domain": ["DGI", "DGI_China", "Poly. (DGI)", "Poly. (DGI_China)"], "range": ["#1f2c6b", "#e03c1c", "#5563a0", "#f47f66"]},
                    "legend": {"orient": "none", "legendX": 72, "legendY": 40, "direction": "horizontal", "title": null,
                               "encoding": {"symbols": {
                                 "shape": {"value": {"expr": "datum.value === 'DGI' ? 'diamond' : datum.value === 'DGI_China' ? 'square' : 'stroke'"}},
                                 "fill": {"value": {"expr": "datum.value === 'DGI' ? '#1f2c6b' : datum.value === 'DGI_China' ? '#e03c1c' : 'transparent'"}},
                                 "stroke": {"value": {"expr": "datum.value === 'Poly. (DGI)' ? '#5563a0' : datum.value === 'Poly. (DGI_China)' ? '#f47f66' : 'transparent'"}},
                                 "size": {"value": {"expr": "datum.value === 'DGI' ? 30 : datum.value === 'DGI_China' ? 45 : 121"}},
                                 "strokeWidth": {"value": 1.5}, "opacity": {"value": 1}}}}}
         }},
        {"transform": [{"filter": "datum.s === 'DGI_China'"}],
         "mark": {"type": "point", "shape": "square", "filled": true, "size": 45, "opacity": 1},
         "encoding": {
          "x": {"field": "x", "type": "quantitative", "axis": {"orient": "top", "values": [0, 0.05, 0.1, 0.15, 0.2], "grid": true, "labels": false, "title": null}},
          "y": {"field": "y", "type": "quantitative", "axis": null},
          "color": {"field": "s", "type": "nominal", "legend": null}
         }},
        {"transform": [{"filter": "datum.s === 'DGI'"}, {"regression": "y", "on": "x", "method": "poly", "order": 2}],
         "mark": {"type": "line", "strokeWidth": 1.5},
         "encoding": {"x": {"field": "x", "type": "quantitative", "axis": null}, "y": {"field": "y", "type": "quantitative", "axis": null}, "color": {"datum": "Poly. (DGI)", "legend": null}}},
        {"transform": [{"filter": "datum.s === 'DGI_China'"}, {"regression": "y", "on": "x", "method": "poly", "order": 2}],
         "mark": {"type": "line", "strokeWidth": 1.5},
         "encoding": {"x": {"field": "x", "type": "quantitative", "axis": null}, "y": {"field": "y", "type": "quantitative", "axis": null}, "color": {"datum": "Poly. (DGI_China)", "legend": null}}}
       ]},
      {"width": 545, "height": 254, "title": {"text": "CAMERA 17"},
       "transform": [{"filter": "datum.cam === '17'"}],
       "resolve": {"axis": {"x": "independent", "y": "independent"}},
       "layer": [
        {"transform": [{"filter": "datum.s === 'DGI'"}],
         "mark": {"type": "point", "shape": "diamond", "filled": true, "size": 30, "opacity": 1},
         "encoding": {
          "x": {"field": "x", "type": "quantitative", "scale": {"domain": [0, 0.3], "range": [36, 534], "nice": false, "zero": false},
                "axis": {"orient": "bottom", "offset": -36, "values": [0, 0.05, 0.1, 0.15, 0.2, 0.25, 0.3], "format": "~g", "grid": false, "labelPadding": 12,
                         "title": "Central - Far", "titleFont": "Liberation Serif", "titleFontSize": 19, "titleFontWeight": "normal", "titleColor": "#1a1a1a", "titlePadding": 27}},
          "y": {"field": "y", "type": "quantitative", "scale": {"domain": [17, 21], "range": [218, 76], "nice": false, "zero": false},
                "axis": {"orient": "left", "offset": -36, "values": [17, 18, 19, 20, 21], "format": "~g", "grid": true, "labelPadding": 14, "title": null}},
          "color": {"field": "s", "type": "nominal",
                    "scale": {"domain": ["DGI", "DGI_China", "Poly. (DGI)", "Poly. (DGI_China)"], "range": ["#1f2c6b", "#e03c1c", "#5563a0", "#f47f66"]},
                    "legend": {"orient": "none", "legendX": 76, "legendY": 40, "direction": "horizontal", "title": null,
                               "encoding": {"symbols": {
                                 "shape": {"value": {"expr": "datum.value === 'DGI' ? 'diamond' : datum.value === 'DGI_China' ? 'square' : 'stroke'"}},
                                 "fill": {"value": {"expr": "datum.value === 'DGI' ? '#1f2c6b' : datum.value === 'DGI_China' ? '#e03c1c' : 'transparent'"}},
                                 "stroke": {"value": {"expr": "datum.value === 'Poly. (DGI)' ? '#5563a0' : datum.value === 'Poly. (DGI_China)' ? '#f47f66' : 'transparent'"}},
                                 "size": {"value": {"expr": "datum.value === 'DGI' ? 30 : datum.value === 'DGI_China' ? 45 : 121"}},
                                 "strokeWidth": {"value": 1.5}, "opacity": {"value": 1}}}}}
         }},
        {"transform": [{"filter": "datum.s === 'DGI_China'"}],
         "mark": {"type": "point", "shape": "square", "filled": true, "size": 45, "opacity": 1},
         "encoding": {
          "x": {"field": "x", "type": "quantitative", "axis": {"orient": "top", "values": [0, 0.05, 0.1, 0.15, 0.2, 0.25, 0.3], "grid": true, "labels": false, "title": null}},
          "y": {"field": "y", "type": "quantitative", "axis": null},
          "color": {"field": "s", "type": "nominal", "legend": null}
         }},
        {"transform": [{"filter": "datum.s === 'DGI'"}, {"regression": "y", "on": "x", "method": "poly", "order": 2}],
         "mark": {"type": "line", "strokeWidth": 1.5},
         "encoding": {"x": {"field": "x", "type": "quantitative", "axis": null}, "y": {"field": "y", "type": "quantitative", "axis": null}, "color": {"datum": "Poly. (DGI)", "legend": null}}},
        {"transform": [{"filter": "datum.s === 'DGI_China'"}, {"regression": "y", "on": "x", "method": "poly", "order": 2}],
         "mark": {"type": "line", "strokeWidth": 1.5},
         "encoding": {"x": {"field": "x", "type": "quantitative", "axis": null}, "y": {"field": "y", "type": "quantitative", "axis": null}, "color": {"datum": "Poly. (DGI_China)", "legend": null}}}
       ]}
    ]}
  ],
  "config": {
    "font": "Lato",
    "view": {"stroke": "#d9d9d9", "strokeWidth": 1},
    "axis": {"labelFont": "Lato", "labelFontSize": 14, "labelColor": "#a0a0a0", "gridColor": "#d9d9d9", "gridWidth": 1, "ticks": false, "domain": false, "labelFlush": false, "labelOverlap": false},
    "legend": {"labelFont": "Lato", "labelFontSize": 15, "labelColor": "#6f6f6f", "symbolSize": 121, "labelOffset": 5, "columnPadding": 14, "symbolStrokeWidth": 1.5},
    "title": {"font": "Lato", "fontSize": 19, "fontWeight": "normal", "color": "#595959", "offset": -28, "anchor": "middle", "frame": "group"}
  }
}
